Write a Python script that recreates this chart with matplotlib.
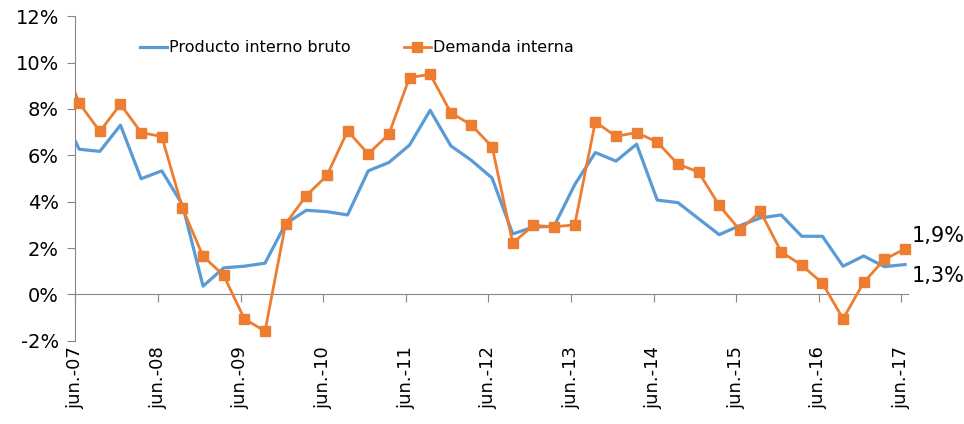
import numpy as np
import matplotlib
matplotlib.use('Agg')
import matplotlib.pyplot as plt

# trimestres: mar-07 (fuera del eje, solo se ve el tramo recortado) .. jun-17
quarters = np.arange(-1, 41)
pib = [8.1, 6.26, 6.17, 7.30, 4.99, 5.33, 3.87, 0.36, 1.15, 1.22, 1.35,
       3.05, 3.63, 3.57, 3.43, 5.33, 5.69, 6.44, 7.94, 6.41, 5.78,
       5.02, 2.61, 2.91, 2.94, 4.73, 6.12, 5.75, 6.48, 4.07, 3.96,
       3.27, 2.58, 2.97, 3.30, 3.43, 2.51, 2.51, 1.22, 1.66, 1.20, 1.29]
demanda = [10.5, 8.25, 7.03, 8.20, 6.98, 6.81, 3.73, 1.65, 0.82, -1.05, -1.58,
           3.05, 4.26, 5.13, 7.05, 6.06, 6.91, 9.35, 9.49, 7.84, 7.30,
           6.37, 2.22, 2.98, 2.92, 3.00, 7.44, 6.82, 6.98, 6.57, 5.62,
           5.28, 3.84, 2.78, 3.58, 1.84, 1.26, 0.49, -1.05, 0.52, 1.51, 1.97]
year_labels = ['jun.-07', 'jun.-08', 'jun.-09', 'jun.-10', 'jun.-11', 'jun.-12',
               'jun.-13', 'jun.-14', 'jun.-15', 'jun.-16', 'jun.-17']
y_ticks = [-2, 0, 2, 4, 6, 8, 10, 12]

blue = '#5B9BD5'
orange = '#ED7D31'
gray = '#868686'

fig = plt.figure(figsize=(9.64, 4.24), dpi=100)
ax = fig.add_axes([0.0783, 0.196, 0.8637, 0.766])

ax.plot(quarters, pib, color=blue, lw=2.3, label='Producto interno bruto')
# tramo recortado antes de jun-07
ax.plot(quarters[:2], demanda[:2], color=orange, lw=2.0)
# marcadores sin recorte (el primero pisa el eje como en Excel)
ax.plot(quarters[1:], demanda[1:], color=orange, lw=2.0, marker='s', markersize=7,
        label='Demanda interna', clip_on=False, zorder=3)

tick_pos = np.arange(0, 41, 4) - 0.18
ax.set_xlim(-0.18, 40.15)
ax.set_ylim(-2, 12)

ax.set_yticks(y_ticks)
ax.set_yticklabels([f'{v}%' for v in y_ticks], fontsize=14)
ax.tick_params(axis='y', direction='out', length=6, color=gray, pad=6)

ax.set_xticks(tick_pos)
ax.set_xticklabels(year_labels, rotation=90, fontsize=13)
ax.tick_params(axis='x', length=0, pad=4)

for s in ['top', 'right', 'bottom']:
    ax.spines[s].set_visible(False)
ax.spines['left'].set_color(gray)

# linea del cero con sus marcas
zero = ax.secondary_xaxis(2 / 14)
zero.set_xticks(tick_pos)
zero.set_xticklabels([])
zero.tick_params(direction='out', length=6, color=gray)
zero.spines['bottom'].set_color(gray)

ax.annotate('1,9%', (quarters[-1], demanda[-1]), xytext=(5, 9),
            textcoords='offset points', fontsize=15, va='center', ha='left',
            annotation_clip=False)
ax.annotate('1,3%', (quarters[-1], pib[-1]), xytext=(5, -8),
            textcoords='offset points', fontsize=15, va='center', ha='left',
            annotation_clip=False)

ax.legend(loc='upper left', bbox_to_anchor=(0.06, 0.97), ncol=2, frameon=False,
          fontsize=11.5, handlelength=1.7, handletextpad=0.15, columnspacing=3.3)

plt.savefig('out.png', dpi=100)
